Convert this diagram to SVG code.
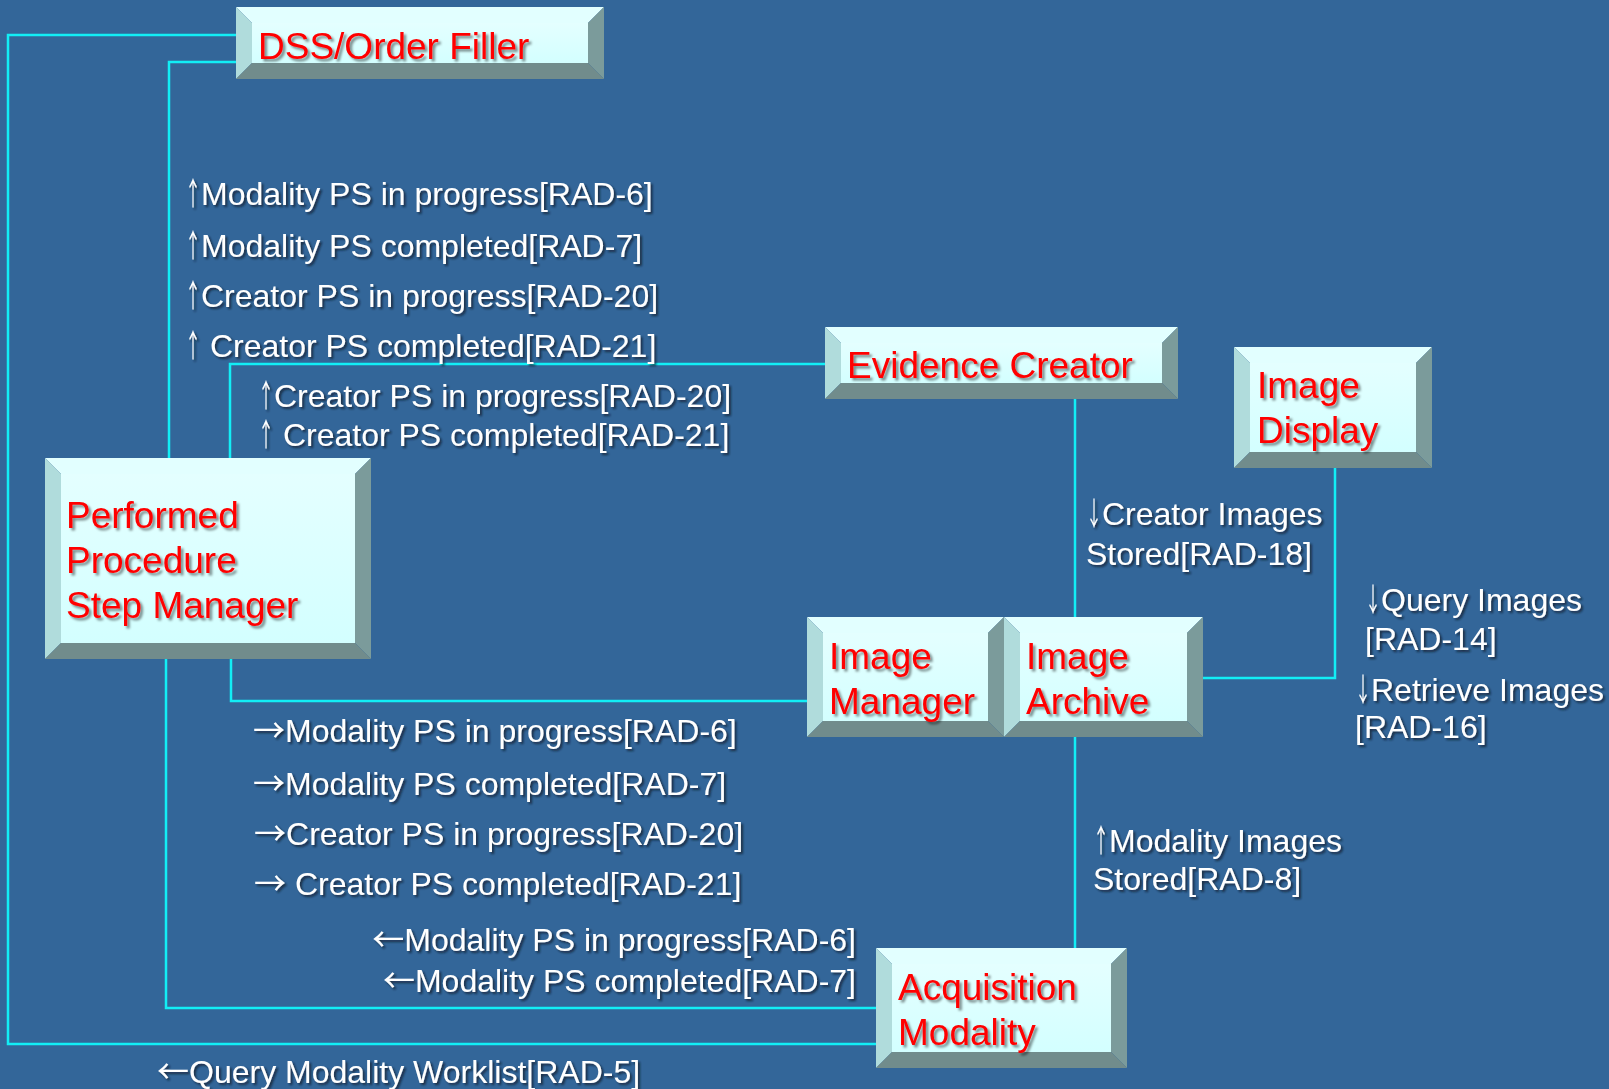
<svg xmlns="http://www.w3.org/2000/svg" width="1609" height="1089" viewBox="0 0 1609 1089">
  <defs>
    <linearGradient id="faceGrad" x1="0" y1="0" x2="0" y2="1">
      <stop offset="0" stop-color="#E4FFFF"/>
      <stop offset="1" stop-color="#D3FFFF"/>
    </linearGradient>
    <filter id="shadowRed" x="-5%" y="-20%" width="115%" height="150%">
      <feDropShadow dx="2.5" dy="2.5" stdDeviation="1.3" flood-color="#000000" flood-opacity="0.45"/>
    </filter>
    <filter id="shadowWhite" x="-5%" y="-20%" width="115%" height="150%">
      <feDropShadow dx="2" dy="2" stdDeviation="1" flood-color="#0A1A2A" flood-opacity="0.75"/>
    </filter>
  </defs>
  <style>
    .bg { fill: #336699; }
    .face { fill: url(#faceGrad); }
    .bev-top { fill: #E2FFFF; }
    .bev-left { fill: #B0DCDC; }
    .bev-right { fill: #7B9B9B; }
    .bev-bottom { fill: #718C8C; }
    .conn { fill: none; stroke: #12EEF6; stroke-width: 2.5; }
    .node-label { font-family: "Liberation Sans", Arial, sans-serif; font-size: 37px; fill: #FF0000; filter: url(#shadowRed); }
    .msg { font-family: "Liberation Sans", Arial, sans-serif; font-size: 32px; fill: #FFFFFF; filter: url(#shadowWhite); }
    .arw { font-family: "Noto Sans CJK JP", "Liberation Sans", sans-serif; }
  </style>

  <rect class="bg" x="0" y="0" width="1609" height="1089"/>

  <!-- connectors -->
  <g id="connectors">
    <path class="conn" d="M236,35 H8 V1044 H876"/>
    <path class="conn" d="M236,62 H169 V458"/>
    <path class="conn" d="M230,458 V364 H825"/>
    <path class="conn" d="M1075,399 V617"/>
    <path class="conn" d="M1335,468 V678 H1203"/>
    <path class="conn" d="M231,659 V701 H807"/>
    <path class="conn" d="M1075,737 V948"/>
    <path class="conn" d="M166,659 V1008 H876"/>
  </g>

  <!-- DSS/Order Filler: x236 y7 w368 h72 -->
  <g id="dss-order-filler">
    <rect class="face" x="252" y="23" width="336" height="40"/>
    <polygon class="bev-top" points="236,7 604,7 588,23 252,23"/>
    <polygon class="bev-left" points="236,7 252,23 252,63 236,79"/>
    <polygon class="bev-right" points="604,7 604,79 588,63 588,23"/>
    <polygon class="bev-bottom" points="236,79 252,63 588,63 604,79"/>
    <text class="node-label" x="258" y="59">DSS/Order Filler</text>
  </g>

  <!-- Evidence Creator: x825 y327 w353 h72 -->
  <g id="evidence-creator">
    <rect class="face" x="841" y="343" width="321" height="40"/>
    <polygon class="bev-top" points="825,327 1178,327 1162,343 841,343"/>
    <polygon class="bev-left" points="825,327 841,343 841,383 825,399"/>
    <polygon class="bev-right" points="1178,327 1178,399 1162,383 1162,343"/>
    <polygon class="bev-bottom" points="825,399 841,383 1162,383 1178,399"/>
    <text class="node-label" x="847" y="378">Evidence Creator</text>
  </g>

  <!-- Image Display: x1234 y347 w198 h121 -->
  <g id="image-display">
    <rect class="face" x="1250" y="363" width="166" height="89"/>
    <polygon class="bev-top" points="1234,347 1432,347 1416,363 1250,363"/>
    <polygon class="bev-left" points="1234,347 1250,363 1250,452 1234,468"/>
    <polygon class="bev-right" points="1432,347 1432,468 1416,452 1416,363"/>
    <polygon class="bev-bottom" points="1234,468 1250,452 1416,452 1432,468"/>
    <text class="node-label" x="1257" y="398">Image</text>
    <text class="node-label" x="1257" y="443">Display</text>
  </g>

  <!-- Performed Procedure Step Manager: x45 y458 w326 h201 -->
  <g id="pps-manager">
    <rect class="face" x="61" y="474" width="294" height="169"/>
    <polygon class="bev-top" points="45,458 371,458 355,474 61,474"/>
    <polygon class="bev-left" points="45,458 61,474 61,643 45,659"/>
    <polygon class="bev-right" points="371,458 371,659 355,643 355,474"/>
    <polygon class="bev-bottom" points="45,659 61,643 355,643 371,659"/>
    <text class="node-label" x="66" y="528">Performed</text>
    <text class="node-label" x="66" y="573">Procedure</text>
    <text class="node-label" x="66" y="618">Step Manager</text>
  </g>

  <!-- Image Manager: x807 y617 w197 h120 -->
  <g id="image-manager">
    <rect class="face" x="823" y="633" width="165" height="88"/>
    <polygon class="bev-top" points="807,617 1004,617 988,633 823,633"/>
    <polygon class="bev-left" points="807,617 823,633 823,721 807,737"/>
    <polygon class="bev-right" points="1004,617 1004,737 988,721 988,633"/>
    <polygon class="bev-bottom" points="807,737 823,721 988,721 1004,737"/>
    <text class="node-label" x="829" y="669">Image</text>
    <text class="node-label" x="829" y="714">Manager</text>
  </g>

  <!-- Image Archive: x1004 y617 w199 h120 -->
  <g id="image-archive">
    <rect class="face" x="1020" y="633" width="167" height="88"/>
    <polygon class="bev-top" points="1004,617 1203,617 1187,633 1020,633"/>
    <polygon class="bev-left" points="1004,617 1020,633 1020,721 1004,737"/>
    <polygon class="bev-right" points="1203,617 1203,737 1187,721 1187,633"/>
    <polygon class="bev-bottom" points="1004,737 1020,721 1187,721 1203,737"/>
    <text class="node-label" x="1026" y="669">Image</text>
    <text class="node-label" x="1026" y="714">Archive</text>
  </g>

  <!-- Acquisition Modality: x876 y948 w251 h120 -->
  <g id="acquisition-modality">
    <rect class="face" x="892" y="964" width="219" height="88"/>
    <polygon class="bev-top" points="876,948 1127,948 1111,964 892,964"/>
    <polygon class="bev-left" points="876,948 892,964 892,1052 876,1068"/>
    <polygon class="bev-right" points="1127,948 1127,1068 1111,1052 1111,964"/>
    <polygon class="bev-bottom" points="876,1068 892,1052 1111,1052 1127,1068"/>
    <text class="node-label" x="898" y="1000">Acquisition</text>
    <text class="node-label" x="898" y="1045">Modality</text>
  </g>

  <!-- transaction labels; vertical arrows are a full-width glyph squeezed to a half-em advance -->
  <g id="labels-dss-ppsm">
    <text class="msg" x="185" y="205"><tspan class="arw" textLength="16" lengthAdjust="spacingAndGlyphs">↑</tspan>Modality PS in progress[RAD-6]</text>
    <text class="msg" x="185" y="257"><tspan class="arw" textLength="16" lengthAdjust="spacingAndGlyphs">↑</tspan>Modality PS completed[RAD-7]</text>
    <text class="msg" x="185" y="307"><tspan class="arw" textLength="16" lengthAdjust="spacingAndGlyphs">↑</tspan>Creator PS in progress[RAD-20]</text>
    <text class="msg" x="185" y="357"><tspan class="arw" textLength="16" lengthAdjust="spacingAndGlyphs">↑</tspan> Creator PS completed[RAD-21]</text>
  </g>
  <g id="labels-ppsm-evidence">
    <text class="msg" x="258" y="407"><tspan class="arw" textLength="16" lengthAdjust="spacingAndGlyphs">↑</tspan>Creator PS in progress[RAD-20]</text>
    <text class="msg" x="258" y="446"><tspan class="arw" textLength="16" lengthAdjust="spacingAndGlyphs">↑</tspan> Creator PS completed[RAD-21]</text>
  </g>
  <g id="labels-ppsm-manager">
    <text class="msg" x="253" y="742"><tspan class="arw">→</tspan>Modality PS in progress[RAD-6]</text>
    <text class="msg" x="253" y="795"><tspan class="arw">→</tspan>Modality PS completed[RAD-7]</text>
    <text class="msg" x="254" y="845"><tspan class="arw">→</tspan>Creator PS in progress[RAD-20]</text>
    <text class="msg" x="254" y="895"><tspan class="arw">→</tspan> Creator PS completed[RAD-21]</text>
  </g>
  <g id="labels-modality-ppsm">
    <text class="msg" x="856" y="951" text-anchor="end"><tspan class="arw">←</tspan>Modality PS in progress[RAD-6]</text>
    <text class="msg" x="856" y="992" text-anchor="end"><tspan class="arw">←</tspan>Modality PS completed[RAD-7]</text>
  </g>
  <g id="labels-worklist">
    <text class="msg" x="157" y="1083"><tspan class="arw">←</tspan>Query Modality Worklist[RAD-5]</text>
  </g>
  <g id="labels-creator-archive">
    <text class="msg" x="1086" y="525"><tspan class="arw" textLength="16" lengthAdjust="spacingAndGlyphs">↓</tspan>Creator Images</text>
    <text class="msg" x="1086" y="565">Stored[RAD-18]</text>
  </g>
  <g id="labels-display-archive">
    <text class="msg" x="1365" y="611"><tspan class="arw" textLength="16" lengthAdjust="spacingAndGlyphs">↓</tspan>Query Images</text>
    <text class="msg" x="1365" y="650">[RAD-14]</text>
    <text class="msg" x="1355" y="701"><tspan class="arw" textLength="16" lengthAdjust="spacingAndGlyphs">↓</tspan>Retrieve Images</text>
    <text class="msg" x="1355" y="738">[RAD-16]</text>
  </g>
  <g id="labels-modality-archive">
    <text class="msg" x="1093" y="852"><tspan class="arw" textLength="16" lengthAdjust="spacingAndGlyphs">↑</tspan>Modality Images</text>
    <text class="msg" x="1093" y="890">Stored[RAD-8]</text>
  </g>
</svg>
